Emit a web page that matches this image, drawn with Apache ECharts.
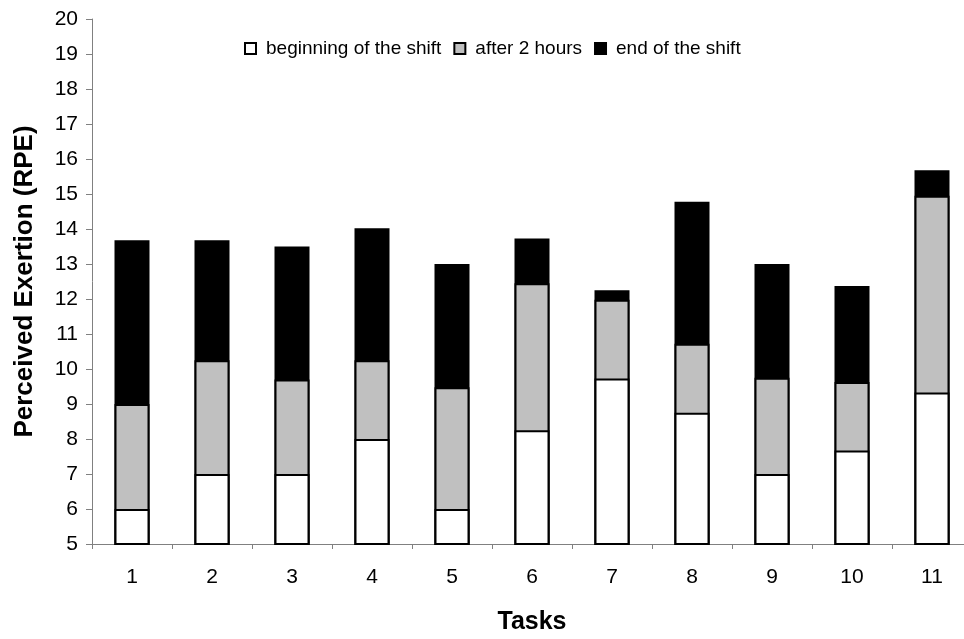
<!DOCTYPE html>
<html>
<head>
<meta charset="utf-8">
<script src="https://cdn.jsdelivr.net/npm/echarts@6/dist/echarts.min.js"></script>
<style>
html,body{margin:0;padding:0;background:#fff;}
#chart{width:964px;height:639px;}
</style>
</head>
<body>
<div id="chart"></div>
<script>
const tasks = ['1','2','3','4','5','6','7','8','9','10','11'];
const beginningOfShift = [6, 7, 7, 8, 6, 8.25, 9.73, 8.75, 7, 7.67, 9.33];
const after2Hours = [9, 10.25, 9.7, 10.25, 9.48, 12.45, 11.98, 10.72, 9.75, 9.63, 14.95];
const endOfShift = [13.68, 13.68, 13.5, 14.02, 13, 13.73, 12.25, 14.78, 13, 12.37, 15.68];

const FONT = '"Liberation Sans", Arial, sans-serif';
const chart = echarts.init(document.getElementById('chart'), null, {renderer: 'canvas'});
chart.setOption({
  animation: false,
  backgroundColor: '#fff',
  grid: {left: 92, top: 19, width: 880, height: 525, containLabel: false, outerBoundsMode: 'none'},
  legend: {
    data: ['beginning of the shift', 'after 2 hours', 'end of the shift'],
    left: 244, top: 39, padding: 0,
    itemWidth: 11, itemHeight: 11, itemGap: 12,
    icon: 'rect',
    textStyle: {fontFamily: FONT, fontSize: 19, color: '#000', padding: [0, 0, 0, 5]}
  },
  xAxis: {
    type: 'category',
    data: tasks,
    name: 'Tasks',
    nameLocation: 'middle',
    nameGap: 66,
    nameTextStyle: {fontFamily: FONT, fontSize: 25, fontWeight: 'bold', color: '#000'},
    axisLine: {lineStyle: {color: '#808080', width: 1}},
    axisTick: {show: true, length: 5, lineStyle: {color: '#808080'}},
    axisLabel: {fontFamily: FONT, fontSize: 21, color: '#000', margin: 23}
  },
  yAxis: {
    type: 'value',
    min: 5, max: 20, interval: 1,
    name: 'Perceived Exertion (RPE)',
    nameLocation: 'middle',
    nameGap: 54,
    nameTextStyle: {fontFamily: FONT, fontSize: 26, fontWeight: 'bold', color: '#000'},
    axisLine: {show: true, lineStyle: {color: '#808080', width: 1}},
    axisTick: {show: true, length: 6, lineStyle: {color: '#808080'}},
    axisLabel: {fontFamily: FONT, fontSize: 21, color: '#000', margin: 14},
    splitLine: {show: false}
  },
  series: [
    {
      name: 'end of the shift', type: 'bar', data: endOfShift,
      barWidth: 35, barGap: '-100%',
      itemStyle: {color: '#000', borderColor: '#000', borderWidth: 2}
    },
    {
      name: 'after 2 hours', type: 'bar', data: after2Hours,
      barWidth: 35, barGap: '-100%',
      itemStyle: {color: '#C0C0C0', borderColor: '#000', borderWidth: 2}
    },
    {
      name: 'beginning of the shift', type: 'bar', data: beginningOfShift,
      barWidth: 35, barGap: '-100%',
      itemStyle: {color: '#fff', borderColor: '#000', borderWidth: 2}
    }
  ]
});
</script>
</body>
</html>
